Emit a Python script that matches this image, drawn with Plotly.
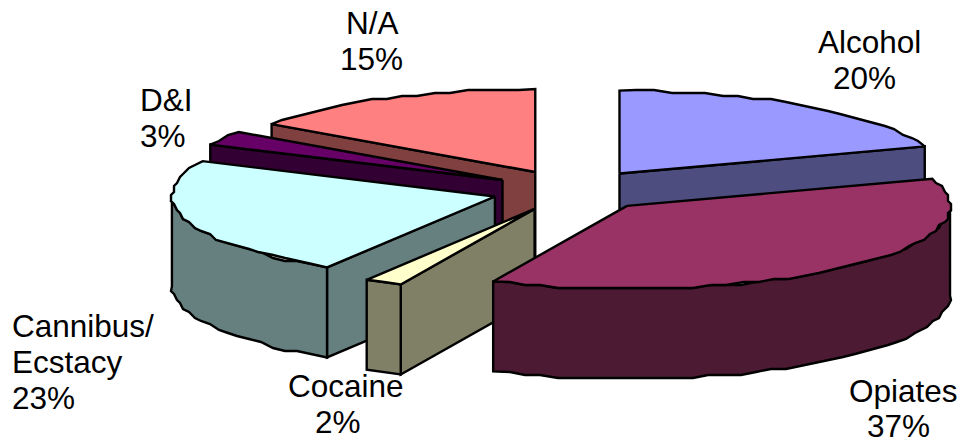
import math
import plotly.graph_objects as go

# Data (slice sizes; labels are rounded)
categories = ["Alcohol", "Opiates", "Cocaine", "Cannibus/ Ecstacy", "D&I", "N/A"]
percent = [19.7, 37.1, 1.9, 23.3, 2.8, 15.2]
top_colors = ["#9999FF", "#993366", "#FFFFCC", "#CCFFFF", "#660066", "#FF8080"]
side_colors = ["#4D4D80", "#4D1A33", "#808066", "#668080", "#330033", "#804040"]

# Painter's order: back slices first
draw_order = [0, 5, 4, 3, 2, 1]

# Pie geometry in canvas pixels
CX, CY = 572.5, 190.5
RX, RY = 323.0, 83.0
PULL = 81.0
DEPTH = 90.0
GRID = 3.0


def snap(v):
    return round(v / GRID) * GRID


def pt(apex, deg, r=1.0):
    a = math.radians(deg)
    return apex[0] + RX * r * math.sin(a), apex[1] - RY * r * math.cos(a)


def arc(apex, a0, a1, rough=True):
    n = max(2, int(abs(a1 - a0) / 3.0))
    pts = [pt(apex, a0 + (a1 - a0) * i / n) for i in range(n + 1)]
    if rough and len(pts) > 2:
        pts = [pts[0]] + [(snap(x), snap(y)) for x, y in pts[1:-1]] + [pts[-1]]
    return pts


def poly(fig, pts, color):
    xs = [p[0] for p in pts] + [pts[0][0]]
    ys = [p[1] for p in pts] + [pts[0][1]]
    fig.add_trace(go.Scatter(x=xs, y=ys, mode="lines", fill="toself", fillcolor=color,
                             line=dict(color="#000000", width=2.4), hoverinfo="skip",
                             showlegend=False))


# Slice angles, clockwise from 12 o'clock
edges = [0.0]
for p in percent:
    edges.append(edges[-1] + p * 3.6)

fig = go.Figure()
for i in draw_order:
    a0, a1 = edges[i], edges[i + 1]
    mid = math.radians((a0 + a1) / 2)
    apex = (CX + PULL * math.sin(mid), CY - PULL * RY / RX * math.cos(mid))
    low = (apex[0], apex[1] + DEPTH)

    # Radial cut faces that look towards the viewer
    for ang, normal in ((a0, a0 - 90), (a1, a1 + 90)):
        if math.cos(math.radians(normal)) < -1e-6:
            p = pt(apex, ang)
            poly(fig, [apex, p, (p[0], p[1] + DEPTH), low], side_colors[i])

    # Outer wall, front half only
    w0, w1 = max(a0, 90.0), min(a1, 270.0)
    if w1 > w0:
        top = arc(apex, w0, w1)
        poly(fig, top + [(x, y + DEPTH) for x, y in reversed(top)], side_colors[i])

    # Top face
    poly(fig, [apex] + arc(apex, a0, a1), top_colors[i])


def pct(i):
    return f"{round(percent[i])}%"


# Label lines: text, anchor x, centre y, alignment
label_lines = [
    ("Alcohol", 869, 42, "center"), (pct(0), 864, 78, "center"),
    ("Opiates", 903, 391, "center"), (pct(1), 898, 426, "center"),
    ("Cocaine", 346, 386, "center"), (pct(2), 338, 422, "center"),
    ("Cannibus/", 10, 326, "left"), ("Ecstacy", 10, 362, "left"), (pct(3), 10, 398, "left"),
    ("D&I", 138, 100, "left"), (pct(4), 138, 136, "left"),
    ("N/A", 372, 23, "center"), (pct(5), 371, 59, "center"),
]
for text, x, y, align in label_lines:
    fig.add_annotation(x=x, y=y, text=text, showarrow=False, xanchor=align, yanchor="middle",
                       xref="x", yref="y", font=dict(family="Liberation Sans, Arial", size=31.5, color="#000000"))

fig.update_layout(
    width=960, height=441, margin=dict(l=0, r=0, t=0, b=0),
    paper_bgcolor="#FFFFFF", plot_bgcolor="#FFFFFF", showlegend=False,
    xaxis=dict(range=[0, 960], visible=False, fixedrange=True),
    yaxis=dict(range=[441, 0], visible=False, fixedrange=True),
)
fig.write_html(
    "out.html",
    config={"displayModeBar": False},
    post_script="document.documentElement.style.overflow='hidden';"
                "document.body.style.margin='0';document.body.style.overflow='hidden';",
)
